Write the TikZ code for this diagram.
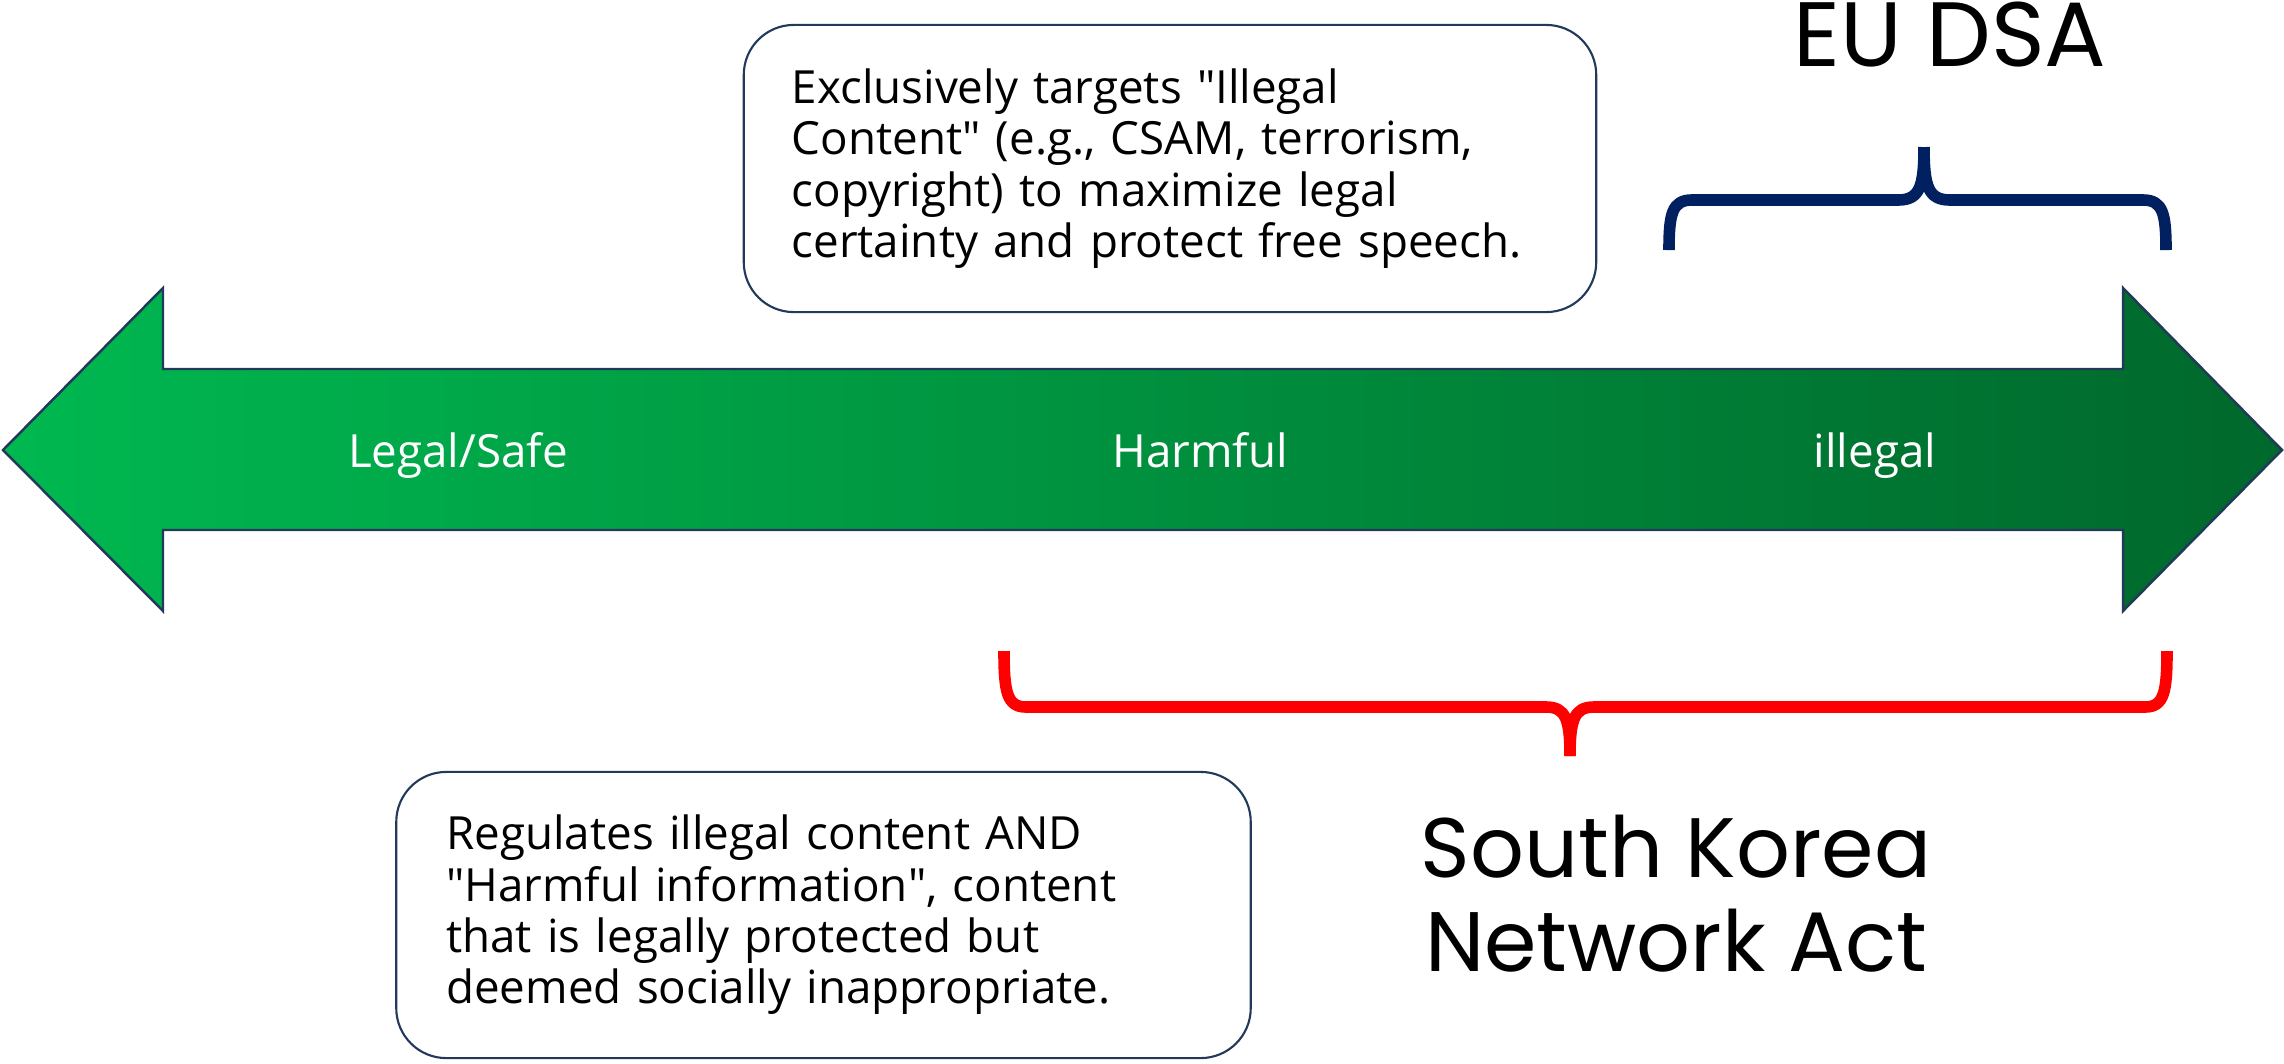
\documentclass[tikz,border=0pt]{standalone}
\usepackage{fontspec}
\setmainfont{Open Sans}
\newfontfamily\titlefont{Poppins}
\newcommand{\sq}{\XeTeXglyph\XeTeXcharglyph"22\relax}
\definecolor{gleft}{HTML}{00B850}
\definecolor{gright}{HTML}{00682C}
\definecolor{edge}{HTML}{22395A}
\definecolor{navy}{HTML}{002060}
\begin{document}
\begin{tikzpicture}[x=0.01cm,y=-0.01cm,
  infobox/.style={draw=edge,line width=0.6pt,rounded corners=0.5cm,fill=white,
    align=left,font=\fontsize{13pt}{14.6pt}\selectfont,inner sep=0pt},
  lab/.style={text=white,font=\fontsize{13pt}{15pt}\selectfont,anchor=base,inner sep=0pt},
  brace/.style={line width=3.3pt,line cap=butt,line join=round},
  title/.style={font=\titlefont,anchor=base,inner sep=0pt}]
\useasboundingbox (0,0) rectangle (2284,1063);
% double arrow
\draw[edge,line width=0.7pt,left color=gleft,right color=gright]
  (3,450) -- (163,288) -- (163,369) -- (2123,369) -- (2123,288) -- (2282,450)
  -- (2123,611) -- (2123,530) -- (163,530) -- (163,611) -- cycle;
\node[lab] (safe) at (458,467) {Legal/Safe};
\node[lab] (harm) at (1200,467) {Harmful};
\node[lab] (ill) at (1875,467) {illegal};
% top box
\node[infobox,minimum width=8.52cm,minimum height=2.87cm,text width=7.56cm] (dsabox) at (1170,168.5)
 {\raisebox{0pt}[\height][\depth]{}Exclusively targets \sq Illegal\\
  Content\sq{} (e.g., CSAM, terrorism,\\
  copyright) to maximize legal\\
  certainty and protect free speech.};
% bottom box
\node[infobox,minimum width=8.54cm,minimum height=2.86cm,text width=7.54cm] (skbox) at (823.5,915)
 {Regulates illegal content AND\\
  \sq Harmful information\sq, content\\
  that is legally protected but\\
  deemed socially inappropriate.};
% titles
\node[title,font=\titlefont\fontsize{26pt}{30pt}\selectfont] (dsa) at (1950,66) {EU DSA};
\node[title,font=\titlefont\fontsize{24pt}{28pt}\selectfont] (sk1) at (1676,877) {South Korea};
\node[title,font=\titlefont\fontsize{24pt}{28pt}\selectfont] (sk2) at (1676,971) {Network Act};
% blue brace (EU DSA)
\coordinate (bL) at (1669,250);
\coordinate (bR) at (2166,250);
\coordinate (bM) at (1924,147);
\draw[brace,navy] (bL) .. controls (1669,214) and (1672,200) .. (1692,200) -- (1898,200)
  .. controls (1920,200) and (1924,186) .. (bM);
\draw[brace,navy] (bR) .. controls (2166,214) and (2163,200) .. (2143,200) -- (1950,200)
  .. controls (1928,200) and (1924,186) .. (bM);
% red brace (South Korea)
\coordinate (rL) at (1004,651);
\coordinate (rR) at (2167,651);
\coordinate (rM) at (1570,756);
\draw[brace,red] (rL) .. controls (1004,692) and (1007,707) .. (1026,707) -- (1546,707)
  .. controls (1566,707) and (1570,720) .. (rM);
\draw[brace,red] (rR) .. controls (2167,692) and (2164,707) .. (2145,707) -- (1594,707)
  .. controls (1574,707) and (1570,720) .. (rM);
\end{tikzpicture}
\end{document}
